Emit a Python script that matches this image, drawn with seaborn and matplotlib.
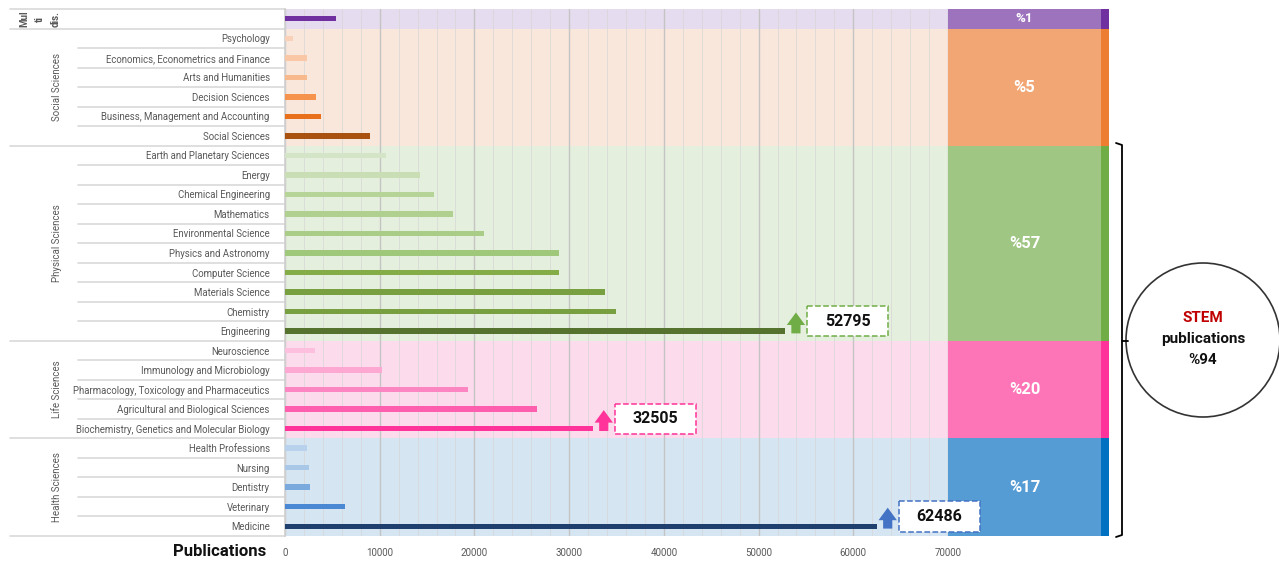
import numpy as np
import pandas as pd
import matplotlib.pyplot as plt
import seaborn as sns
from matplotlib.patches import Rectangle, Ellipse
from matplotlib.lines import Line2D
from matplotlib.ticker import FixedLocator

# --- data ---
subjects = [
    "Multidisciplinary",
    "Psychology", "Economics, Econometrics and Finance", "Arts and Humanities",
    "Decision Sciences", "Business, Management and Accounting", "Social Sciences",
    "Earth and Planetary Sciences", "Energy", "Chemical Engineering", "Mathematics",
    "Environmental Science", "Physics and Astronomy", "Computer Science",
    "Materials Science", "Chemistry", "Engineering",
    "Neuroscience", "Immunology and Microbiology",
    "Pharmacology, Toxicology and Pharmaceutics",
    "Agricultural and Biological Sciences",
    "Biochemistry, Genetics and Molecular Biology",
    "Health Professions", "Nursing", "Dentistry", "Veterinary", "Medicine",
]
publications = [
    5400,
    800, 2300, 2350, 3300, 3850, 9000,
    10700, 14300, 15700, 17700, 21000, 28950, 28950, 33800, 34900, 52795,
    3200, 10200, 19350, 26600, 32505,
    2300, 2500, 2650, 6300, 62486,
]
bar_colors = [
    "#7030a0",
    "#f9d0b8", "#f9c7a5", "#f8b98c", "#f5924c", "#e8701a", "#a9520f",
    "#d3e5c6", "#c9deb5", "#b7d498", "#afd08f", "#a9cc86", "#a0c87a",
    "#84ad48", "#78a040", "#78a040", "#55722f",
    "#fcc0de", "#fca8d3", "#fc86c2", "#fd5fae", "#ff3399",
    "#b8d1ec", "#a9c8e8", "#7aa9de", "#4a88d4", "#1f3f6e",
]
group_names = ["Mul\nti\ndis.", "Social Sciences", "Physical Sciences", "Life Sciences", "Health Sciences"]
group_sizes = [1, 6, 10, 5, 5]
group_shares = ["%1", "%5", "%57", "%20", "%17"]
band_colors = ["#e6dcef", "#fae7dc", "#e5efdd", "#fcdcec", "#d6e5f2"]
block_colors = ["#9e73bd", "#f1a674", "#9fc683", "#fd75b7", "#559bd4"]
strip_colors = ["#7030a0", "#ed7d31", "#70ad47", "#ff3399", "#0070c0"]
highlights = {
    "Engineering": "#70ad47",
    "Biochemistry, Genetics and Molecular Biology": "#ff3399",
    "Medicine": "#4472c4",
}
stem_share = "%94"

X_MAX = 70000
BLOCK_END = 86160
AX_END = 87000

sns.set_theme(style="white")
plt.rcParams["font.family"] = ["Roboto", "DejaVu Sans"]

W, H = 1279, 561
fig = plt.figure(figsize=(W / 100, H / 100), dpi=100)
ax = fig.add_axes([285 / W, (H - 536) / H, (1109 - 285) / W, (536 - 9) / H])

df = pd.DataFrame({"subject": subjects, "publications": publications})
sns.barplot(data=df, x="publications", y="subject", hue="subject",
            palette=dict(zip(subjects, bar_colors)), legend=False, saturation=1,
            width=0.28, orient="h", ax=ax, zorder=3, linewidth=0, edgecolor="none")

ax.set_xlim(0, AX_END)
ax.set_ylim(len(subjects) - 0.5, -0.5)
ax.set_xlabel("")
ax.set_ylabel("")

# group bands + coloured share blocks on the right
start = 0
for name, n, share, band, block, strip in zip(group_names, group_sizes, group_shares,
                                               band_colors, block_colors, strip_colors):
    y0, y1 = start - 0.5, start + n - 0.5
    ax.axhspan(y0, y1, color=band, zorder=0, lw=0)
    ax.add_patch(Rectangle((X_MAX, y0), BLOCK_END - X_MAX, n, fc=block, ec="none", zorder=2))
    ax.add_patch(Rectangle((BLOCK_END, y0), AX_END - BLOCK_END, n, fc=strip, ec="none", zorder=2))
    ax.text((X_MAX + BLOCK_END) / 2, (y0 + y1) / 2, share, color="white", ha="center",
            va="center", fontsize=9.5 if n == 1 else 12, fontweight="bold", zorder=3)
    if n == 1:
        ax.text(-0.297, (y0 + y1) / 2, name, transform=ax.get_yaxis_transform(), rotation=90,
                ha="center", va="center", fontsize=7, color="#595959",
                linespacing=1.7, fontweight="bold")
    else:
        ax.text(-0.2767, (y0 + y1) / 2, name, transform=ax.get_yaxis_transform(), rotation=90,
                ha="center", va="center", fontsize=7, color="#595959")
    # separator lines on the left
    for i in range(start, start + n):
        x_left = -0.334 if i == start else -0.251
        ax.add_line(Line2D([x_left, 0], [i - 0.5, i - 0.5], transform=ax.get_yaxis_transform(),
                           color="#d9d9d9", lw=1.2, clip_on=False))
    start += n
ax.add_line(Line2D([-0.334, 0], [start - 0.5, start - 0.5], transform=ax.get_yaxis_transform(),
                   color="#d9d9d9", lw=1.2, clip_on=False))

# value call-outs for the biggest bar of each STEM group
for subj, col in highlights.items():
    idx = subjects.index(subj)
    val = publications[idx]
    ax.annotate("", xy=(val + 1150, idx - 0.95), xytext=(val + 1150, idx + 0.12),
                arrowprops=dict(arrowstyle="simple,head_length=0.75,head_width=1.1,tail_width=0.55",
                                fc=col, ec="none", mutation_scale=12, shrinkA=0, shrinkB=0),
                zorder=4)
    bx = val + 2300
    ax.add_patch(Rectangle((bx, idx - 1.28), 8600, 1.55, fc="white", ec=col, ls="--",
                           lw=1.1, zorder=5))
    ax.text(bx + 4300, idx - 0.5, f"{val}", ha="center", va="center", fontsize=11.5,
            fontweight="bold", color="#111111", zorder=6)

# axes styling
ax.xaxis.set_major_locator(FixedLocator(range(0, X_MAX + 1, 10000)))
ax.xaxis.set_minor_locator(FixedLocator(range(0, X_MAX + 1, 2000)))
ax.set_axisbelow(True)
ax.grid(which="major", axis="x", color="#c4c4c4", lw=1.0)
ax.grid(which="minor", axis="x", color="#d6d6d6", lw=0.7, alpha=0.7)
ax.grid(which="both", axis="y", visible=False)
ax.tick_params(axis="both", which="both", length=0)
ax.tick_params(axis="x", pad=9, labelsize=7, labelcolor="#595959")
ax.tick_params(axis="y", pad=11, labelsize=6.9, labelcolor="#595959")
ax.set_yticks(range(len(subjects)))
ax.set_yticklabels(["" if s == "Multidisciplinary" else s for s in subjects])
for side in ["top", "right", "bottom"]:
    ax.spines[side].set_visible(False)
ax.spines["left"].set_color("#d0d0d0")

fig.text(266 / W, 1 - 551 / H, "Publications", ha="right", va="center",
         fontsize=12, fontweight="bold", color="#111111")

# STEM bracket and circle
def fx(px):
    return px / W

def fy(py):
    return 1 - py / H

bracket = [
    ([1116, 1122, 1122, 1116], [143, 145, 535, 537]),
    ([1122, 1128], [341, 341]),
]
for xs, ys in bracket:
    fig.add_artist(Line2D([fx(x) for x in xs], [fy(y) for y in ys], color="black", lw=1.3))
fig.add_artist(Ellipse((fx(1203), fy(340)), 154 / W, 154 / H, fill=False, ec="#333333", lw=1.2))
fig.text(fx(1203), fy(318), "STEM", ha="center", va="center", fontsize=11,
         fontweight="bold", color="#c00000")
fig.text(fx(1203), fy(339), "publications", ha="center", va="center", fontsize=11,
         fontweight="bold", color="#111111")
fig.text(fx(1203), fy(360), stem_share, ha="center", va="center", fontsize=11,
         fontweight="bold", color="#111111")

fig.savefig("out.png", dpi=100)
